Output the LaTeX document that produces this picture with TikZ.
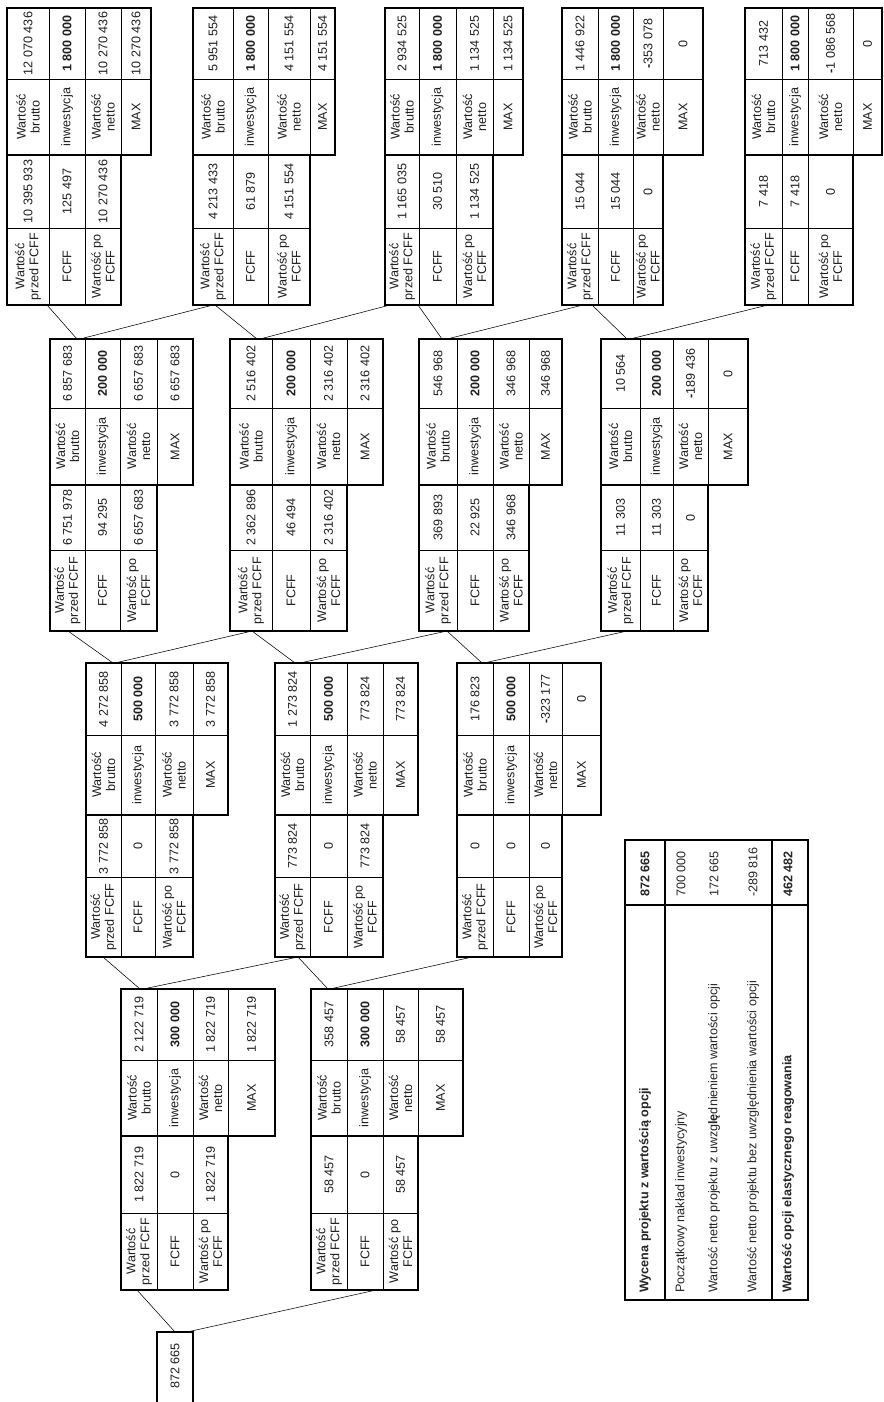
\documentclass[tikz,border=0pt]{standalone}
\usepackage{fontspec}
\setmainfont{Liberation Sans}
\newcommand{\stagey}[5]{\def\ya{#1}\def\yb{#2}\def\yc{#3}\def\yd{#4}\def\ye{#5}}
\newcommand{\rowsx}[5]{\def\xa{#1}\def\xb{#2}\def\xc{#3}\def\xd{#4}\def\xe{#5}}
\newcommand{\bm}{\textbf{-}}
\newcommand{\fnode}[8]{%
 \pgfmathsetmacro\ca{(\xa+\xb)/2}%
 \pgfmathsetmacro\cb{(\xb+\xc)/2}%
 \pgfmathsetmacro\cc{(\xc+\xd)/2}%
 \pgfmathsetmacro\cd{(\xd+\xe)/2}%
 \pgfmathsetmacro\va{(\ya+\yb)/2}%
 \pgfmathsetmacro\vb{(\yb+\yc)/2}%
 \pgfmathsetmacro\vc{(\yc+\yd)/2}%
 \pgfmathsetmacro\vd{(\yd+\ye)/2}%
 \draw[inner] (\xa,\yb) -- (\xe,\yb);
 \draw[inner] (\xb,\ya) -- (\xb,\yc) (\xc,\ya) -- (\xc,\yc) (\xd,\ya) -- (\xd,\yc);
 \draw[outer] (\xa,\ya) rectangle (\xe,\yc);
 \draw[inner] (\xa,\yd) -- (\xd,\yd);
 \draw[inner] (\xb,\yc) -- (\xb,\ye) (\xc,\yc) -- (\xc,\ye);
 \draw[outer] (\xa,\yc) rectangle (\xd,\ye);
 \node[txt] (#1-l1) at (\ca,\vd) {Wartość\\przed FCFF};
 \node[txt] (#1-l2) at (\cb,\vd) {FCFF};
 \node[txt] (#1-l3) at (\cc,\vd) {Wartość po\\FCFF};
 \node[txt] (#1-v1) at (\ca,\vc) {#2};
 \node[txt] (#1-v2) at (\cb,\vc) {#3};
 \node[txt] (#1-v3) at (\cc,\vc) {#4};
 \node[txt] (#1-l4) at (\ca,\vb) {Wartość\\brutto};
 \node[txt] (#1-l5) at (\cb,\vb) {inwestycja};
 \node[txt] (#1-l6) at (\cc,\vb) {Wartość\\netto};
 \node[txt] (#1-l7) at (\cd,\vb) {MAX};
 \node[txt] (#1-v4) at (\ca,\va) {#5};
 \node[txt,font=\fs\bfseries] (#1-v5) at (\cb,\va) {#6};
 \node[txt] (#1-v6) at (\cc,\va) {#7};
 \node[txt] (#1-v7) at (\cd,\va) {#8};
}
\newcommand{\fs}{\fontsize{12.6}{14}\selectfont}
\begin{document}
\begin{tikzpicture}[x=1pt,y=-1pt,
  outer/.style={line width=1.1pt},
  inner/.style={line width=0.55pt},
  conn/.style={line width=0.55pt},
  txt/.style={rotate=90, align=center, inner sep=0pt, font=\fs, text=black!88},
  ltxt/.style={rotate=90, anchor=west, inner sep=0pt, font=\fs, text=black!85}]
\fill[white] (0,0) rectangle (883,1402);
\useasboundingbox (0,0) rectangle (883,1402);

% ---------- stage 4 ----------
\stagey{8}{79}{155}{228}{305}
\rowsx{7}{49}{85}{121}{151}
\fnode{n41}{10 395 933}{125 497}{10 270 436}{12 070 436}{1 800 000}{10 270 436}{10 270 436}
\rowsx{193}{233}{268}{310}{335}
\fnode{n42}{4 213 433}{61 879}{4 151 554}{5 951 554}{1 800 000}{4 151 554}{4 151 554}
\rowsx{385}{419}{456}{493}{523}
\fnode{n43}{1 165 035}{30 510}{1 134 525}{2 934 525}{1 800 000}{1 134 525}{1 134 525}
\rowsx{562}{598}{633}{663}{703}
\fnode{n44}{15 044}{15 044}{0}{1 446 922}{1 800 000}{\bm353 078}{0}
\rowsx{745}{782}{808}{853}{882}
\fnode{n45}{7 418}{7 418}{0}{713 432}{1 800 000}{\bm1 086 568}{0}

% ---------- stage 3 ----------
\stagey{339}{408}{485}{550}{631}
\rowsx{50}{85}{120}{157}{193}
\fnode{n31}{6 751 978}{94 295}{6 657 683}{6 857 683}{200 000}{6 657 683}{6 657 683}
\rowsx{230}{272}{310}{347}{383}
\fnode{n32}{2 362 896}{46 494}{2 316 402}{2 516 402}{200 000}{2 316 402}{2 316 402}
\rowsx{419}{457}{493}{529}{562}
\fnode{n33}{369 893}{22 925}{346 968}{546 968}{200 000}{346 968}{346 968}
\rowsx{601}{640}{673}{708}{748}
\fnode{n34}{11 303}{11 303}{0}{10 564}{200 000}{\bm189 436}{0}

% ---------- stage 2 ----------
\stagey{663}{735}{815}{877}{957}
\rowsx{86}{121}{155}{193}{228}
\fnode{n21}{3 772 858}{0}{3 772 858}{4 272 858}{500 000}{3 772 858}{3 772 858}
\rowsx{275}{310}{347}{383}{418}
\fnode{n22}{773 824}{0}{773 824}{1 273 824}{500 000}{773 824}{773 824}
\rowsx{457}{493}{529}{562}{601}
\fnode{n23}{0}{0}{0}{176 823}{500 000}{\bm323 177}{0}

% ---------- stage 1 ----------
\stagey{989}{1060}{1136}{1213}{1290}
\rowsx{121}{157}{193}{228}{275}
\fnode{n11}{1 822 719}{0}{1 822 719}{2 122 719}{300 000}{1 822 719}{1 822 719}
\rowsx{311}{347}{383}{418}{463}
\fnode{n12}{58 457}{0}{58 457}{358 457}{300 000}{58 457}{58 457}

% ---------- root ----------
\draw[outer] (157,1332) rectangle (193,1406);
\node[txt] (root) at (175,1366) {872 665};

% ---------- connector points ----------
\coordinate (n41b) at (47,305);   \coordinate (n31t1) at (77,339);
\coordinate (n31t2) at (80,339);  \coordinate (n42b1) at (213,305);
\coordinate (n42b2) at (215,305); \coordinate (n32t1) at (257,339);
\coordinate (n32t2) at (260,339); \coordinate (n43b1) at (390,305);
\coordinate (n43b2) at (418,305); \coordinate (n33t1) at (442,339);
\coordinate (n33t2) at (447,339); \coordinate (n44b1) at (583,305);
\coordinate (n44b2) at (592,305); \coordinate (n34t1) at (627,339);
\coordinate (n34t2) at (630,339); \coordinate (n45b) at (768,305);

\coordinate (n31b) at (68,631);   \coordinate (n21t1) at (113,663);
\coordinate (n21t2) at (115,663); \coordinate (n32b) at (252,631);
\coordinate (n22t1) at (295,663); \coordinate (n22t2) at (300,663);
\coordinate (n33b) at (447,631);  \coordinate (n23t1) at (482,663);
\coordinate (n23t2) at (484,663); \coordinate (n34b) at (627,631);

\coordinate (n21b) at (103,957);  \coordinate (n11t1) at (140,989);
\coordinate (n11t2) at (143,989); \coordinate (n22b) at (298,957);
\coordinate (n12t1) at (328,989); \coordinate (n12t2) at (330,989);
\coordinate (n23b) at (472,957);

\coordinate (n11b) at (137,1290); \coordinate (roott1) at (175,1332);
\coordinate (roott2) at (187,1332); \coordinate (n12b) at (376,1290);

\draw[conn] (n41b) -- (n31t1) (n31t2) -- (n42b1)
            (n42b2) -- (n32t1) (n32t2) -- (n43b1)
            (n43b2) -- (n33t1) (n33t2) -- (n44b1)
            (n44b2) -- (n34t1) (n34t2) -- (n45b);
\draw[conn] (n31b) -- (n21t1) (n21t2) -- (n32b)
            (n32b) -- (n22t1) (n22t2) -- (n33b)
            (n33b) -- (n23t1) (n23t2) -- (n34b);
\draw[conn] (n21b) -- (n11t1) (n11t2) -- (n22b)
            (n22b) -- (n12t1) (n12t2) -- (n23b);
\draw[conn] (n11b) -- (roott1) (roott2) -- (n12b);

% ---------- summary table ----------
\draw[outer] (625,840) rectangle (808,1300);
\draw[outer] (665,840) -- (665,1300) (772,840) -- (772,1300);
\draw[outer] (625,905) -- (808,905);
\node[ltxt,font=\fs\bfseries] (s1) at (645,1293) {Wycena projektu z wartością opcji};
\node[ltxt] (s2) at (681,1293) {Początkowy nakład inwestycyjny};
\node[ltxt] (s3) at (714,1293) {Wartość netto projektu z uwzg\textbf{lę}dnieniem wartości opcji};
\node[ltxt] (s4) at (753,1293) {Wartość netto projektu bez uwzględnienia wartości opcji};
\node[ltxt,font=\fs\bfseries] (s5) at (788,1293) {Wartość opcji elastycznego reagowania};
\node[ltxt,font=\fs\bfseries] (t1) at (645,897) {872 665};
\node[ltxt] (t2) at (681,897) {700 000};
\node[ltxt] (t3) at (714,897) {172 665};
\node[ltxt] (t4) at (753,897) {-289 816};
\node[ltxt,font=\fs\bfseries] (t5) at (788,897) {462 482};
\end{tikzpicture}
\end{document}
